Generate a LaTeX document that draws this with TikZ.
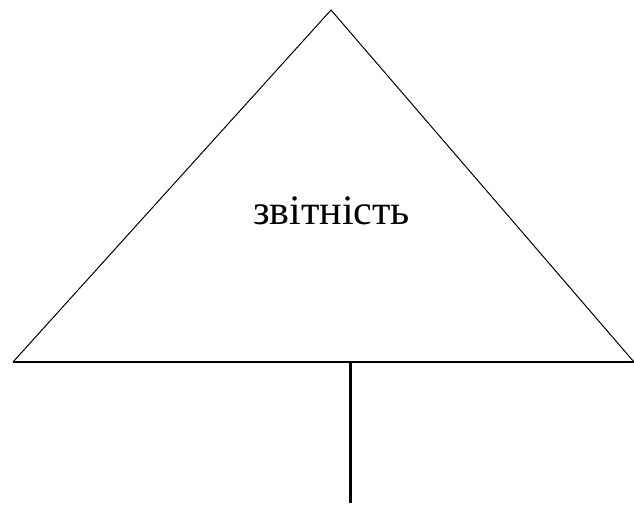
\documentclass[tikz,border=0pt]{standalone}
\usepackage{fontspec}
\setmainfont{Liberation Serif}
\newfontfamily\lblfont{Liberation Serif}

\begin{document}
\begin{tikzpicture}[x=1pt,y=-1pt, lbl/.style={font=\lblfont\fontsize{42pt}{50pt}\selectfont,inner sep=0pt}, side/.style={draw,line width=1pt}, base/.style={draw,line width=2.4pt}]
  \useasboundingbox (0,0) rectangle (634,504);
  \coordinate (top) at (331,10);
  \coordinate (bl) at (13,362);
  \coordinate (br) at (634,362);
  \draw[side,line join=miter] (bl) -- (top) -- (br);
  \draw[base] (bl) -- (br);
  \node[lbl,anchor=base] (txt) at (331.5,224) {звітність};
  \coordinate (stem) at (350.5,362);
  \coordinate (foot) at (350.5,503);
  \draw[base,line width=2.6pt] (stem) -- (foot);
\end{tikzpicture}
\end{document}
